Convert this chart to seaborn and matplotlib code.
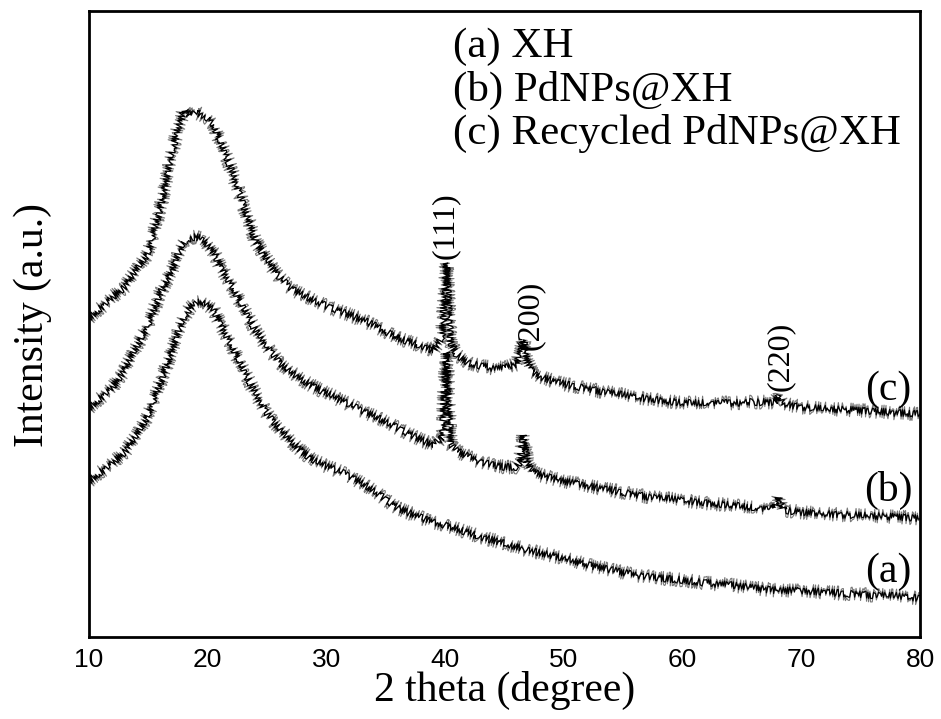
import numpy as np
import pandas as pd
import matplotlib
matplotlib.use("Agg")
import matplotlib.pyplot as plt
from matplotlib.ticker import MultipleLocator
import seaborn as sns

# ---- data (intensity in arbitrary units) ----
two_theta = [10, 11, 12, 13, 14, 15, 16, 17, 17.5, 18, 18.5, 19, 19.5, 20, 20.5,
             21, 22, 23, 24, 25, 26, 27, 28, 29, 30, 32, 34, 36, 38, 39, 39.75,
             40.1, 40.45, 41, 42, 43, 44, 45, 46, 46.3, 46.6, 46.9, 47.3, 48, 50,
             52, 54, 56, 58, 60, 62, 64, 66, 67.7, 68.1, 68.5, 70, 72, 74, 76, 78, 80]

# (c) Recycled PdNPs@XH
curve_c = [319, 329, 340, 350, 367, 384, 429, 484, 509, 527, 522, 525, 522, 519, 512,
           497, 467, 432, 397, 377, 360, 349, 342, 336, 331, 322, 312, 299, 291, 287, 300,
           374, 295, 282, 274, 271, 269, 269, 273, 282, 297, 277, 265, 260, 253,
           248, 244, 240, 237, 234, 234, 234, 235, 235, 241, 233, 230, 228, 227, 226, 224, 223]
# (b) PdNPs@XH
curve_b = [229, 239, 250, 267, 290, 312, 344, 367, 382, 394, 399, 400, 398, 392, 385,
           372, 352, 329, 307, 290, 275, 265, 257, 250, 244, 232, 221, 209, 197, 192, 199,
           285, 192, 186, 180, 175, 172, 170, 170, 175, 202, 175, 166, 162, 156,
           151, 147, 142, 139, 137, 134, 132, 129, 128, 140, 127, 125, 123, 122, 121, 120, 119]
# (a) XH
curve_a = [156, 165, 174, 185, 201, 222, 254, 287, 304, 319, 329, 334, 335, 332, 327,
           315, 292, 267, 244, 223, 209, 196, 185, 176, 171, 161, 146, 129, 119, 115, 113,
           111, 110, 108, 104, 100, 97, 94, 90, 89, 88, 87, 86, 84, 79,
           72, 67, 62, 59, 57, 54, 52, 49, 47, 47, 47, 46, 45, 43, 42, 41, 39]

sample_names = ["(a)", "(b)", "(c)"]
legend_lines = ["(a) XH", "(b) PdNPs@XH", "(c) Recycled PdNPs@XH"]
peak_labels = ["(111)", "(200)", "(220)"]
peak_positions = [40.0, 47.15, 68.2]
peak_label_heights = [411, 322, 281]
x_ticks = [10, 20, 30, 40, 50, 60, 70, 80]

df = pd.DataFrame({
    "two_theta": two_theta * 3,
    "intensity": curve_a + curve_b + curve_c,
    "sample": [s for s in sample_names for _ in two_theta],
})

# ---- figure ----
sns.set_style("white")
plt.rcParams["font.family"] = ["Liberation Serif", "DejaVu Serif"]
plt.rcParams["text.color"] = "black"
plt.rcParams["axes.labelcolor"] = "black"
plt.rcParams["xtick.color"] = "black"
plt.rcParams["ytick.color"] = "black"

fig = plt.figure(figsize=(9.41, 7.19), dpi=100)
ax = fig.add_axes([0.0946, 0.1140, 0.8831, 0.8707])

# grey under-layer and black top layer, both with a fuzzy (noise-like) rendering
sns.lineplot(data=df, x="two_theta", y="intensity", hue="sample",
             palette=["#777777"] * 3, legend=False, ax=ax,
             linewidth=0.8, estimator=None, sort=True)
n_grey = len(ax.lines)
sns.lineplot(data=df, x="two_theta", y="intensity", hue="sample",
             palette=["black"] * 3, legend=False, ax=ax,
             linewidth=0.9, estimator=None, sort=True)
for i, ln in enumerate(ax.lines):
    if i < n_grey:
        ln.set_sketch_params(scale=7, length=1.2, randomness=3)
    else:
        ln.set_sketch_params(scale=3.5, length=1.2, randomness=3)

ax.set_xlim(10, 80)
ax.set_ylim(0, 626)
ax.set_xticks(x_ticks)
ax.xaxis.set_minor_locator(MultipleLocator(5))
ax.set_yticks([])
ax.tick_params(axis="x", which="major", direction="in", length=14, width=1.6,
               labelsize=19, pad=8, top=False, labelcolor="black")
ax.tick_params(axis="x", which="minor", direction="in", length=7, width=1.6, top=False)
for lab in ax.get_xticklabels():
    lab.set_fontfamily("Liberation Sans")
for sp in ax.spines.values():
    sp.set_linewidth(2)
    sp.set_color("black")

ax.set_xlabel("2 theta (degree)", fontsize=30, color="black")
ax.set_ylabel("Intensity (a.u.)", fontsize=30, color="black")
ax.xaxis.set_label_coords(0.5, -0.055)
ax.yaxis.set_label_coords(-0.045, 0.498)

# sample legend text block
for i, t in enumerate(legend_lines):
    ax.text(40.67, 590 - 43 * i, t, fontsize=31, ha="left", va="center", color="black")

# curve labels on the right
curve_label_heights = [65, 147, 247]
for name, h in zip(sample_names, curve_label_heights):
    ax.text(77.3, h, name, fontsize=30, ha="center", va="center", color="black")

# peak indices
for lab, xp, h in zip(peak_labels, peak_positions, peak_label_heights):
    ax.text(xp, h, lab, fontsize=23, rotation=90, ha="center", va="center", color="black")

fig.savefig("out.png", dpi=100)
